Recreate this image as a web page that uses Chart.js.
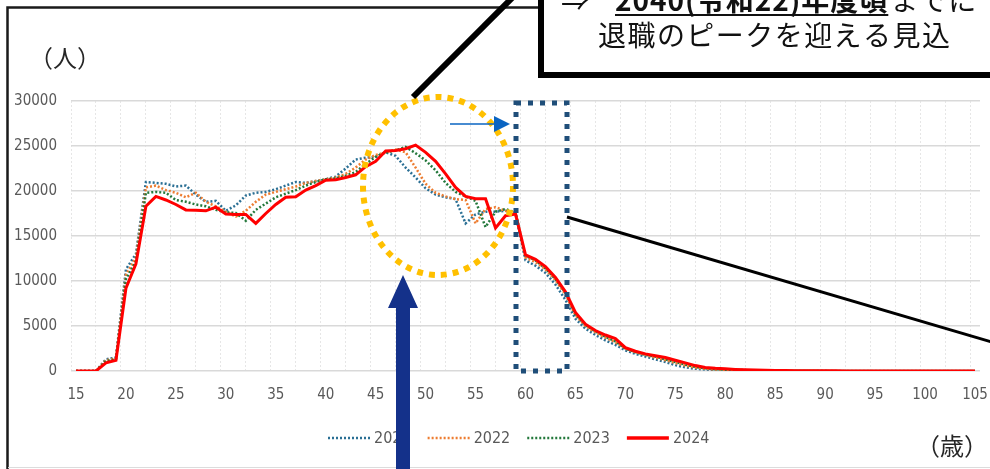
<!DOCTYPE html>
<html>
<head>
<meta charset="utf-8">
<script src="https://cdn.jsdelivr.net/npm/chart.js@4.4.0/dist/chart.umd.min.js"></script>
<style>
  html, body { margin: 0; padding: 0; background: #fff; overflow: hidden; }
  #wrap { width: 990px; height: 469px; }
</style>
</head>
<body>
<div id="wrap"><canvas id="c" width="990" height="469"></canvas></div>
<script>
// ---- Data ----
const ages = [
  15, 16, 17, 18, 19, 20, 21, 22, 23, 24,
  25, 26, 27, 28, 29, 30, 31, 32, 33, 34,
  35, 36, 37, 38, 39, 40, 41, 42, 43, 44,
  45, 46, 47, 48, 49, 50, 51, 52, 53, 54,
  55, 56, 57, 58, 59, 60, 61, 62, 63, 64,
  65, 66, 67, 68, 69, 70, 71, 72, 73, 74,
  75, 76, 77, 78, 79, 80, 81, 82, 83, 84,
  85, 86, 87, 88, 89, 90, 91, 92, 93, 94,
  95, 96, 97, 98, 99, 100, 101, 102, 103, 104,
  105
];

const years = ['2021', '2022', '2023', '2024'];

const staff2021 = [
  0, 0, 0, 1300, 1500, 11300, 13000, 21000, 20900, 20800,
  20500, 20600, 19600, 18800, 18900, 17800, 18400, 19500, 19800, 19900,
  20200, 20600, 21000, 20900, 21100, 21300, 21600, 22500, 23500, 23700,
  23800, 24300, 23900, 22600, 21500, 20300, 19600, 19300, 19100, 16400,
  17400, 17700, 17700, 17800, 17400, 12300, 11700, 10900, 9600, 7900,
  5800, 4700, 4000, 3400, 2900, 2300, 1900, 1600, 1300, 1000,
  650, 400, 250, 170, 120, 100, 80, 60, 50, 40,
  30, 25, 20, 15, 10, 8, 6, 5, 4, 3,
  2, 2, 1, 1, 1, 1, 0, 0, 0, 0,
  0
];

const staff2022 = [
  0, 0, 0, 1200, 1400, 10700, 12600, 20400, 20600, 20100,
  19800, 19300, 19800, 18800, 18300, 17700, 17150, 17800, 18800, 19600,
  19900, 20200, 20500, 20900, 21100, 21300, 21500, 21900, 22600, 23500,
  24000, 24300, 24600, 24300, 22600, 20800, 19800, 19400, 19100, 19000,
  16400, 18000, 18200, 17800, 17600, 12600, 12100, 11300, 10100, 8500,
  6200, 5000, 4300, 3700, 3200, 2500, 2100, 1800, 1500, 1200,
  900, 600, 400, 250, 170, 140, 110, 90, 70, 55,
  45, 35, 30, 20, 15, 10, 8, 6, 5, 4,
  3, 2, 2, 1, 1, 1, 1, 0, 0, 0,
  0
];

const staff2023 = [
  0, 0, 0, 1100, 1300, 10200, 12200, 19800, 19900, 19800,
  19000, 18800, 18500, 18300, 17900, 17650, 17550, 16700, 17900, 18600,
  19300, 19700, 20100, 20600, 21000, 21300, 21400, 21700, 22100, 23000,
  23800, 24300, 24500, 24900, 24200, 23400, 22300, 20900, 19900, 19400,
  18900, 16000, 17700, 18000, 17600, 12800, 12300, 11400, 10200, 8700,
  6300, 5100, 4400, 3800, 3300, 2500, 2100, 1800, 1600, 1300,
  1000, 700, 450, 300, 200, 150, 120, 100, 80, 60,
  50, 40, 30, 25, 20, 15, 10, 8, 6, 5,
  4, 3, 2, 2, 1, 1, 1, 0, 0, 0,
  0
];

const staff2024 = [
  0, 0, 0, 900, 1200, 9200, 11900, 18300, 19400, 19000,
  18500, 17900, 17850, 17800, 18200, 17450, 17400, 17400, 16400, 17500,
  18500, 19300, 19350, 20100, 20600, 21200, 21250, 21500, 21800, 22700,
  23300, 24450, 24500, 24700, 25100, 24300, 23300, 21900, 20400, 19400,
  19150, 19150, 15900, 17250, 17450, 12900, 12400, 11600, 10400, 8800,
  6500, 5200, 4500, 4000, 3600, 2600, 2200, 1900, 1700, 1500,
  1200, 900, 600, 400, 300, 250, 180, 130, 100, 80,
  60, 50, 40, 30, 25, 20, 15, 10, 8, 6,
  5, 4, 3, 2, 2, 1, 1, 1, 0, 0,
  0
];

const yTicks = [0, 5000, 10000, 15000, 20000, 25000, 30000];

// ---- Styles ----
const numFont = '"Liberation Sans Narrow", "DejaVu Sans Condensed", "Roboto", sans-serif';
const jpFont = '"Noto Sans CJK JP", sans-serif';
const tickGray = '#595959';

const seriesStyle = [
  { color: '#2a6f94', width: 2.5, dash: [2, 2] },
  { color: '#ed7d31', width: 2.5, dash: [2, 2] },
  { color: '#23783b', width: 2.5, dash: [2, 2] },
  { color: '#ff0000', width: 3, dash: [] },
];

const seriesValues = [staff2021, staff2022, staff2023, staff2024];

// ---- Overlay: frame, callouts, custom legend ----
const overlay = {
  id: 'overlay',
  beforeDraw(chart) {
    const ctx = chart.ctx;
    ctx.save();
    ctx.fillStyle = '#fff';
    ctx.fillRect(0, 0, chart.width, chart.height);
    ctx.restore();
  },
  afterDraw(chart) {
    const ctx = chart.ctx;
    ctx.save();

    // outer frame (left + top) and faint bottom edge
    ctx.strokeStyle = '#1a1a1a';
    ctx.lineWidth = 2.5;
    ctx.beginPath();
    ctx.moveTo(7.5, 480);
    ctx.lineTo(7.5, 7.5);
    ctx.lineTo(1000, 7.5);
    ctx.stroke();
    ctx.strokeStyle = '#dcdcdc';
    ctx.lineWidth = 1;
    ctx.beginPath();
    ctx.moveTo(8, 467.5);
    ctx.lineTo(990, 467.5);
    ctx.stroke();

    // unit labels
    ctx.fillStyle = '#262626';
    ctx.font = '24px ' + jpFont;
    ctx.textAlign = 'center';
    ctx.textBaseline = 'middle';
    ctx.fillText('（人）', 65, 58);
    ctx.fillText('（歳）', 952, 446);

    // legend
    ctx.font = '16px ' + numFont;
    ctx.textAlign = 'left';
    ctx.textBaseline = 'middle';
    let lx = 328;
    const ly = 438;
    chart.data.datasets.forEach((ds, i) => {
      const st = seriesStyle[i];
      ctx.strokeStyle = ds.borderColor;
      ctx.lineWidth = i === 3 ? 3.5 : 2.5;
      ctx.setLineDash(st.dash);
      ctx.beginPath();
      ctx.moveTo(lx, ly);
      ctx.lineTo(lx + 42, ly);
      ctx.stroke();
      ctx.setLineDash([]);
      ctx.fillStyle = tickGray;
      ctx.fillText(ds.label, lx + 46, ly + 1);
      lx += 46 + ctx.measureText(ds.label).width + 17;
    });

    // yellow dotted ellipse
    ctx.strokeStyle = '#ffc000';
    ctx.lineWidth = 6;
    ctx.setLineDash([6, 6]);
    ctx.beginPath();
    ctx.ellipse(438, 186, 75, 89, 0, 0, Math.PI * 2);
    ctx.stroke();

    // blue dotted rectangle
    ctx.strokeStyle = '#1f4e79';
    ctx.lineWidth = 5;
    ctx.setLineDash([5, 7]);
    ctx.strokeRect(516, 103, 51, 268);
    ctx.setLineDash([]);

    // thin blue arrow
    ctx.strokeStyle = '#0a64c2';
    ctx.fillStyle = '#0a64c2';
    ctx.lineWidth = 1.5;
    ctx.beginPath();
    ctx.moveTo(450, 124);
    ctx.lineTo(495, 124);
    ctx.stroke();
    ctx.beginPath();
    ctx.moveTo(494, 116);
    ctx.lineTo(510, 124);
    ctx.lineTo(494, 132);
    ctx.closePath();
    ctx.fill();

    // thin black leader line
    ctx.strokeStyle = '#000';
    ctx.lineWidth = 3;
    ctx.beginPath();
    ctx.moveTo(567, 217);
    ctx.lineTo(995, 343);
    ctx.stroke();

    // thick black leader line to callout
    ctx.lineWidth = 6;
    ctx.beginPath();
    ctx.moveTo(413, 97);
    ctx.lineTo(550, -40);
    ctx.stroke();

    // callout box
    ctx.fillStyle = '#fff';
    ctx.fillRect(541, -20, 470, 95);
    ctx.strokeStyle = '#000';
    ctx.lineWidth = 6;
    ctx.beginPath();
    ctx.moveTo(541, -20);
    ctx.lineTo(541, 75);
    ctx.lineTo(1000, 75);
    ctx.stroke();

    // callout text
    ctx.fillStyle = '#111';
    ctx.textBaseline = 'alphabetic';
    ctx.textAlign = 'left';
    ctx.font = '28px ' + jpFont;
    ctx.fillText('⇒', 561, 11);
    ctx.font = 'bold 28px ' + jpFont;
    ctx.letterSpacing = '1px';
    const bold = '2040(令和22)年度頃';
    ctx.fillText(bold, 615, 11);
    const bw = ctx.measureText(bold).width;
    ctx.fillRect(615, 14, bw, 2);
    ctx.font = '28px ' + jpFont;
    ctx.fillText('までに', 617 + bw, 11);
    const line2 = '退職のピークを迎える見込';
    ctx.letterSpacing = '0px';
    const w2 = ctx.measureText(line2).width;
    ctx.letterSpacing = ((352 - w2) / 11).toFixed(2) + 'px';
    ctx.fillText(line2, 598, 46);
    ctx.letterSpacing = '0px';

    // big navy arrow
    ctx.fillStyle = '#14318a';
    ctx.beginPath();
    ctx.moveTo(403, 275);
    ctx.lineTo(418, 308);
    ctx.lineTo(410, 308);
    ctx.lineTo(410, 480);
    ctx.lineTo(396, 480);
    ctx.lineTo(396, 308);
    ctx.lineTo(388, 308);
    ctx.closePath();
    ctx.fill();

    ctx.restore();
  }
};

const datasets = years.map((yr, i) => ({
  label: yr,
  data: seriesValues[i],
  borderColor: seriesStyle[i].color,
  borderWidth: seriesStyle[i].width,
  borderDash: seriesStyle[i].dash,
  borderCapStyle: 'butt',
  pointRadius: 0,
  pointHoverRadius: 0,
  tension: 0,
  fill: false,
  order: 3 - i,
  xAxisID: 'x',
}));

new Chart(document.getElementById('c'), {
  type: 'line',
  data: { labels: ages, datasets },
  options: {
    responsive: false,
    animation: false,
    devicePixelRatio: 1,
    layout: { padding: { top: 101, right: 10, bottom: 0, left: 0 } },
    plugins: { legend: { display: false }, tooltip: { enabled: false } },
    scales: {
      x: {
        type: 'category',
        offset: true,
        position: 'bottom',
        grid: { display: false, drawTicks: false },
        border: { display: false },
        ticks: {
          autoSkip: false,
          maxRotation: 0,
          padding: 15,
          color: tickGray,
          font: { family: numFont, size: 15 },
          callback(v) {
            const a = ages[v];
            return a % 5 === 0 ? String(a) : '';
          },
        },
        afterFit(s) {
          s.height = 98;
          s.paddingLeft = 0;
          s.paddingRight = 0;
        },
      },
      xg: {
        type: 'linear',
        position: 'bottom',
        min: 14.5,
        max: 105.5,
        ticks: { display: false },
        grid: { color: '#e6e6e6', lineWidth: 1, drawTicks: false },
        border: { display: false, dash: [2, 2] },
        afterBuildTicks(s) {
          const t = [];
          for (let v = 14.5; v <= 105.5; v += 2.5) t.push({ value: v });
          s.ticks = t;
        },
        afterFit(s) {
          s.height = 0;
          s.paddingLeft = 0;
          s.paddingRight = 0;
        },
      },
      y: {
        min: 0,
        max: 30000,
        grid: { color: '#d9d9d9', lineWidth: 1.5, drawTicks: false },
        border: { display: false },
        afterBuildTicks(s) { s.ticks = yTicks.map(v => ({ value: v })); },
        ticks: {
          padding: 14,
          color: tickGray,
          font: { family: numFont, size: 15 },
          callback(v) { return String(v); },
        },
        afterFit(s) { s.width = 71; },
      },
    },
  },
  plugins: [overlay],
});
</script>
</body>
</html>
